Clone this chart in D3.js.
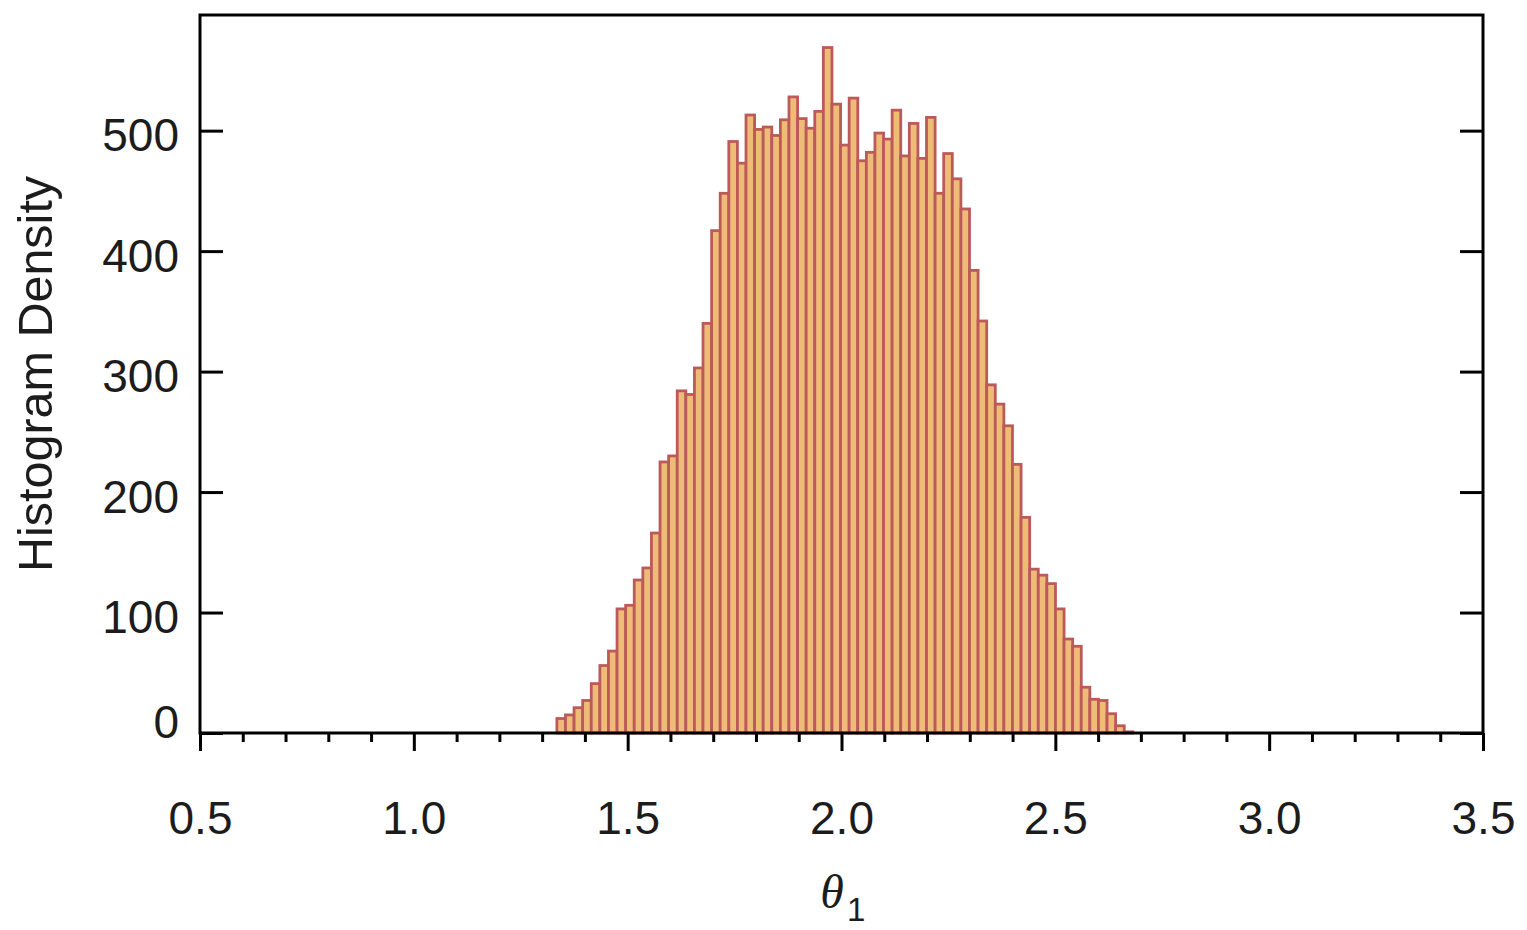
<!DOCTYPE html>
<html><head><meta charset="utf-8">
<script src="https://cdn.jsdelivr.net/npm/d3@7"></script>
<style>body{margin:0;background:#fff}svg{display:block}</style>
</head><body>
<svg id="c" width="1527" height="930"></svg>
<script>
// ---- data ----
const binStart = 1.3345;
const binWidth = 0.0201;
const counts = [12,15,21,27,41,56,68,103,106,127,137,166,225,230,284,281,303,340,417,448,
  491,473,513,501,503,496,509,528,510,502,516,569,522,488,527,475,482,498,493,517,
  479,506,477,511,448,481,460,435,384,342,289,273,255,223,179,136,131,124,103,78,
  72,38,28,27,16,6,1];
const xTicks = [0.5,1.0,1.5,2.0,2.5,3.0,3.5];
const xMinorTicks = [0.6,0.7,0.8,0.9,1.1,1.2,1.3,1.4,1.6,1.7,1.8,1.9,2.1,2.2,2.3,2.4,2.6,2.7,2.8,2.9,3.1,3.2,3.3,3.4];
const yTicks = [0,100,200,300,400,500];

// ---- layout ----
const L=200,R=1483,T=15,B=733;
const svg=d3.select("#c");
const x=d3.scaleLinear().domain([0.5,3.5]).range([L,R]);
const y=d3.scaleLinear().domain([0,596]).range([B,T]);
const font='"Liberation Sans", Arial, Helvetica, sans-serif';
const ink="#1c1c1c";

// bars
svg.append("g").selectAll("rect").data(counts).join("rect")
  .attr("x",(d,i)=>x(binStart+i*binWidth))
  .attr("width",(d,i)=>x(binStart+(i+1)*binWidth)-x(binStart+i*binWidth))
  .attr("y",d=>y(d))
  .attr("height",d=>B-y(d))
  .attr("fill","#efbc77")
  .attr("stroke","#bc5a5a")
  .attr("stroke-width",2.8);

// frame
svg.append("rect").attr("x",L).attr("y",T).attr("width",R-L).attr("height",B-T)
  .attr("fill","none").attr("stroke","#000").attr("stroke-width",3);

function styleAxis(g){
  g.select(".domain").remove();
  g.selectAll(".tick line").attr("stroke","#000").attr("stroke-width",3);
  g.selectAll(".tick text").attr("fill",ink).style("font-family",font).style("font-size","46px");
}

// left axis
const gl=svg.append("g").attr("transform",`translate(${L},0)`)
  .call(d3.axisLeft(y).tickValues(yTicks).tickSize(-23).tickPadding(21).tickFormat(d3.format("d")));
styleAxis(gl);
gl.selectAll(".tick text").attr("dy",null).attr("y",d=>d===0?4:20);

// right axis
const gr=svg.append("g").attr("transform",`translate(${R},0)`)
  .call(d3.axisRight(y).tickValues(yTicks).tickSize(-23).tickFormat(""));
styleAxis(gr);

// bottom major
const gb=svg.append("g").attr("transform",`translate(0,${B})`)
  .call(d3.axisBottom(x).tickValues(xTicks).tickSize(18).tickFormat(d3.format(".1f")));
styleAxis(gb);
gb.selectAll(".tick text").attr("dy",null).attr("y",101);

// bottom minor
const gm=svg.append("g").attr("transform",`translate(0,${B})`)
  .call(d3.axisBottom(x).tickValues(xMinorTicks).tickSize(9).tickFormat(""));
styleAxis(gm);

// y label
svg.append("text").attr("transform","translate(52,374) rotate(-90)")
  .attr("text-anchor","middle").attr("fill",ink)
  .style("font-family",font).style("font-size","48.5px").text("Histogram Density");

// x label
svg.append("text").attr("x",832).attr("y",908).attr("text-anchor","middle").attr("fill",ink)
  .style("font-family",'"Liberation Serif","Times New Roman",serif').style("font-style","italic")
  .style("font-size","48px").text("θ");
svg.append("text").attr("x",847).attr("y",921).attr("fill",ink)
  .style("font-family",font).style("font-size","33px").text("1");
</script>
</body></html>
